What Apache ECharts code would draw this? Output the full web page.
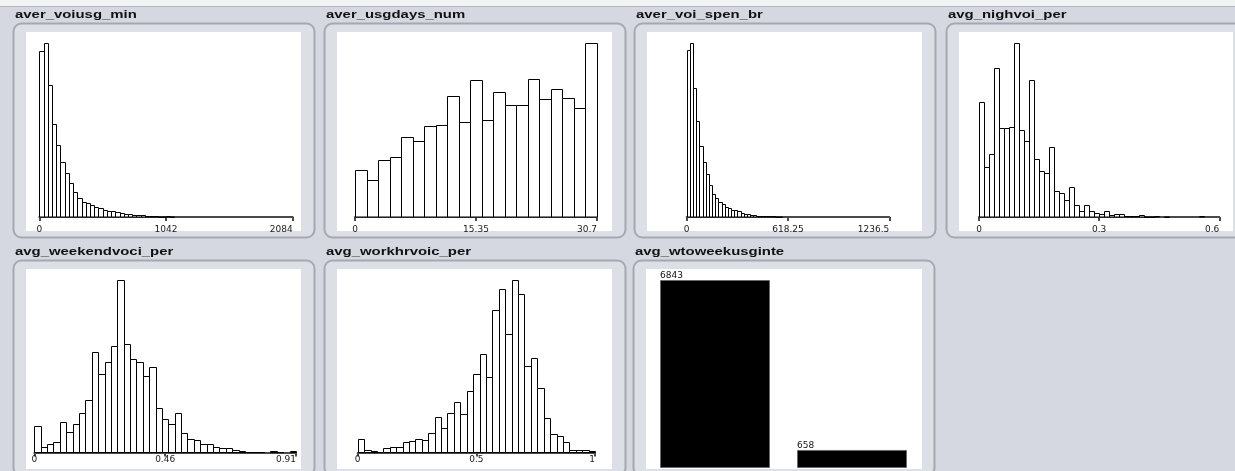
<!DOCTYPE html>
<html>
<head>
<meta charset="utf-8">
<script src="https://cdn.jsdelivr.net/npm/echarts@6/dist/echarts.min.js"></script>
<style>
  html, body { margin: 0; padding: 0; background: #d5d8e0; }
  #chart { width: 1235px; height: 471px; }
</style>
</head>
<body>
<div id="chart"></div>
<script>
// Histogram counts per field (equal-width bins from 0 to the axis maximum)
const voiusgMinCounts = [1349, 1409, 1069, 751, 588, 443, 354, 272, 201, 158,
  125, 112, 95, 84, 76, 54, 52, 52, 44, 30,
  27, 22, 16, 16, 14, 8, 7, 5, 4, 3,
  6, 2, 0, 0, 0, 0, 0, 0, 0, 0,
  0, 0, 0, 0, 0, 0, 0, 0, 0, 0,
  0, 0, 0, 0, 0, 0, 0, 0, 0, 0];
const voiusgMinMax = 2084;
const voiusgMinTicks = ['0', '1042', '2084'];

const usgdaysCounts = [166, 130, 202, 213, 284, 269, 322, 325, 428, 334,
  483, 341, 440, 394, 396, 486, 418, 453, 421, 384, 613];
const usgdaysMax = 30.7;
const usgdaysTicks = ['0', '15.35', '30.7'];

const voiSpenCounts = [1389, 1445, 1074, 795, 594, 455, 357, 268, 195, 156,
  126, 112, 86, 73, 56, 56, 50, 33, 28, 22,
  17, 17, 11, 11, 8, 8, 6, 5, 3, 2,
  0, 0, 0, 0, 0, 0, 0, 0, 0, 0,
  0, 0, 0, 0, 0, 0, 0, 0, 0, 0,
  0, 0, 0, 0, 0, 0, 0, 0, 0, 0,
  0, 0, 0, 0];
const voiSpenMax = 1236.5;
const voiSpenTicks = ['0', '618.25', '1236.5'];

const nighvoiCounts = [576, 252, 316, 744, 445, 445, 449, 870, 437, 383,
  684, 292, 230, 218, 353, 128, 119, 87, 151, 60,
  30, 60, 29, 18, 13, 30, 8, 13, 13, 5,
  5, 5, 8, 2, 2, 5, 0, 2, 0, 0,
  0, 0, 0, 0, 5, 0, 0, 0];
const nighvoiMax = 0.6;
const nighvoiTicks = ['0', '0.3', '0.6'];

const weekendCounts = [138, 29, 46, 55, 155, 107, 146, 201, 268, 516,
  404, 468, 549, 889, 557, 483, 468, 396, 439, 227,
  172, 146, 201, 103, 69, 64, 43, 43, 26, 21,
  21, 12, 7, 3, 2, 2, 0, 7, 2, 0, 9];
const weekendMax = 0.91;
const weekendTicks = ['0', '0.46', '0.91'];

const workhrCounts = [62, 10, 7, 4, 18, 24, 24, 46, 53, 59,
  56, 87, 157, 107, 173, 222, 169, 271, 348, 437,
  337, 632, 725, 525, 765, 703, 383, 419, 286, 151,
  84, 71, 46, 10, 13, 9, 6];
const workhrMax = 1;
const workhrTicks = ['0', '0.5', '1'];

const wtoweekCategories = ['0', '1'];
const wtoweekCounts = [6843, 658];

// Panel layout: white plot box and the grid the axes live in
const histPanels = [
  { title: 'aver_voiusg_min', counts: voiusgMinCounts, max: voiusgMinMax, ticks: voiusgMinTicks,
    box: [26, 32, 275, 199], grid: { left: 39.3, top: 43.3, width: 253.4, height: 173.7 }, margin: 8 },
  { title: 'aver_usgdays_num', counts: usgdaysCounts, max: usgdaysMax, ticks: usgdaysTicks,
    box: [337, 32, 275, 199], grid: { left: 355, top: 43.3, width: 242, height: 173.7 }, margin: 8 },
  { title: 'aver_voi_spen_br', counts: voiSpenCounts, max: voiSpenMax, ticks: voiSpenTicks,
    box: [647, 32, 275, 199], grid: { left: 686.7, top: 43.3, width: 202.6, height: 173.7 }, margin: 8 },
  { title: 'avg_nighvoi_per', counts: nighvoiCounts, max: nighvoiMax, ticks: nighvoiTicks,
    box: [959, 32, 274, 199], grid: { left: 979, top: 43.3, width: 240.3, height: 173.7 }, margin: 8 },
  { title: 'avg_weekendvoci_per', counts: weekendCounts, max: weekendMax, ticks: weekendTicks,
    box: [26, 269, 275, 200], grid: { left: 34.3, top: 280, width: 261.7, height: 172.5 }, margin: 3 },
  { title: 'avg_workhrvoic_per', counts: workhrCounts, max: workhrMax, ticks: workhrTicks,
    box: [337, 269, 275, 200], grid: { left: 357.7, top: 280, width: 237.3, height: 172.5 }, margin: 3 }
];
const barPanel = { title: 'avg_wtoweekusginte', box: [646, 269, 276, 200],
  grid: { left: 646.5, top: 280, width: 274, height: 188 } };

const chart = echarts.init(document.getElementById('chart'), null, { renderer: 'canvas' });

const graphics = [
  { type: 'rect', z: -20, shape: { x: 0, y: 0, width: 1235, height: 6 }, style: { fill: '#f2f3f5' } },
  { type: 'line', z: -20, shape: { x1: 0, y1: 6.5, x2: 1235, y2: 6.5 }, style: { stroke: '#b3b6bd', lineWidth: 1 } }
];

function addFrame(p) {
  const [bx, by, bw, bh] = p.box;
  graphics.push({
    type: 'rect', z: -15,
    shape: { x: bx - 13 + 0.5, y: by - 9 + 0.5, width: 301, height: bh + 15, r: 8 },
    style: { fill: '#dcdfe5', stroke: '#a4a8b0', lineWidth: 2 }
  });
  graphics.push({
    type: 'rect', z: -14,
    shape: { x: bx, y: by, width: bw, height: bh },
    style: { fill: '#ffffff' }
  });
  graphics.push({
    type: 'text', z: 10,
    x: bx - 11, y: by - 16.5, scaleX: 1.42,
    style: { x: 0, y: 0, text: p.title, font: 'bold 10.5px "Liberation Sans", Arial, sans-serif',
      fill: '#111111', textVerticalAlign: 'middle' }
  });
}
histPanels.forEach(addFrame);
addFrame(barPanel);

function renderBin(params, api) {
  const c = api.value(2);
  if (!c) return null;
  const tl = api.coord([api.value(0), c]);
  const br = api.coord([api.value(1), 0]);
  const x0 = Math.round(tl[0]) + 0.5;
  const x1 = Math.round(br[0]) + 0.5;
  const y0 = Math.round(tl[1]) + 0.5;
  return {
    type: 'rect',
    shape: { x: x0, y: y0, width: x1 - x0, height: br[1] - y0 },
    style: { fill: '#ffffff', stroke: '#000000', lineWidth: 1 }
  };
}

const grids = [], xAxes = [], yAxes = [], series = [];

histPanels.forEach((p, i) => {
  grids.push(Object.assign({ containLabel: false }, p.grid));
  const tickVals = [0, p.max / 2, p.max];
  xAxes.push({
    type: 'value', gridIndex: i, min: 0, max: p.max, interval: p.max / 2,
    splitLine: { show: false },
    axisLine: { show: true, onZero: false, lineStyle: { color: '#4a4a4a', width: 2 } },
    axisTick: { show: true, length: 4, lineStyle: { color: '#4a4a4a', width: 2 } },
    axisLabel: {
      show: true, margin: p.margin, fontSize: 9, color: '#1a1a1a',
      fontFamily: '"DejaVu Sans", sans-serif',
      showMinLabel: true, showMaxLabel: true, alignMaxLabel: 'right',
      formatter: (v) => {
        let best = -1, d = Infinity;
        tickVals.forEach((t, k) => { const e = Math.abs(t - v); if (e < d) { d = e; best = k; } });
        return d < p.max * 1e-6 ? p.ticks[best] : '';
      }
    }
  });
  yAxes.push({ type: 'value', gridIndex: i, min: 0, max: Math.max(...p.counts), show: false });
  const w = p.max / p.counts.length;
  series.push({
    type: 'custom', xAxisIndex: i, yAxisIndex: i,
    renderItem: renderBin,
    encode: { x: [0, 1], y: 2 },
    data: p.counts.map((c, k) => [k * w, (k + 1) * w, c]),
    silent: true, animation: false
  });
});

const bi = histPanels.length;
grids.push(Object.assign({ containLabel: false }, barPanel.grid));
xAxes.push({ type: 'category', gridIndex: bi, data: wtoweekCategories, show: false });
yAxes.push({ type: 'value', gridIndex: bi, min: 0, max: Math.max(...wtoweekCounts), show: false });
series.push({
  type: 'bar', xAxisIndex: bi, yAxisIndex: bi, data: wtoweekCounts,
  barWidth: 110,
  itemStyle: { color: '#000000', borderColor: '#6a6a6a', borderWidth: 1 },
  label: { show: true, position: [0, -9], fontSize: 9, color: '#111',
    fontFamily: '"DejaVu Sans", sans-serif' },
  silent: true, animation: false
});

chart.setOption({
  backgroundColor: '#d5d8e0',
  animation: false,
  graphic: { elements: graphics },
  grid: grids,
  xAxis: xAxes,
  yAxis: yAxes,
  series: series
});
</script>
</body>
</html>
